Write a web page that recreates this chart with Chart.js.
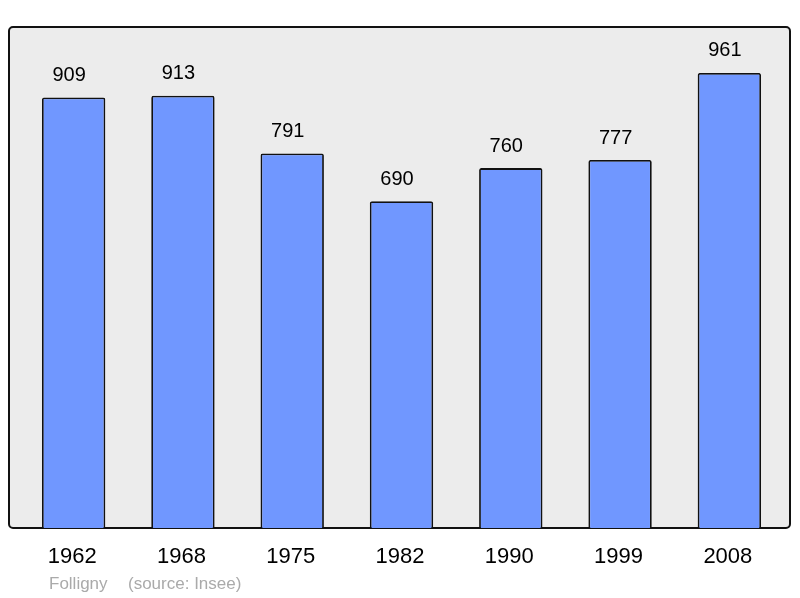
<!DOCTYPE html>
<html lang="fr">
<head>
<meta charset="UTF-8">
<title>Folligny population</title>
<script src="https://cdn.jsdelivr.net/npm/chart.js"></script>
<style>
  html, body { margin: 0; padding: 0; background: #fff; }
  #wrap { width: 800px; height: 598px; }
</style>
</head>
<body>
<div id="wrap"><canvas id="chart" width="800" height="598"></canvas></div>
<script>
const years = ['1962', '1968', '1975', '1982', '1990', '1999', '2008'];
const population = [909, 913, 791, 690, 760, 777, 961];
const commune = 'Folligny';
const source = '(source: Insee)';

const FONT = '"Liberation Sans", Arial, sans-serif';

// background box, value labels, year labels and footer
const decor = {
  id: 'decor',
  beforeDatasetsDraw(chart) {
    const { ctx, chartArea: a } = chart;
    ctx.save();
    ctx.beginPath();
    ctx.roundRect(a.left - 10, a.top, a.right - a.left + 16, a.bottom - a.top, 4);
    ctx.fillStyle = '#ececec';
    ctx.fill();
    ctx.lineWidth = 2;
    ctx.strokeStyle = '#111';
    ctx.stroke();
    ctx.restore();
  },
  afterDatasetsDraw(chart) {
    const { ctx } = chart;
    const meta = chart.getDatasetMeta(0);
    const x = chart.scales.x;
    ctx.save();
    ctx.textAlign = 'center';
    ctx.textBaseline = 'middle';
    ctx.fillStyle = '#000';
    ctx.font = '20px ' + FONT;
    meta.data.forEach((bar, i) => {
      ctx.fillText(String(population[i]), bar.x - 4.5, bar.y - 22);
    });
    ctx.font = '22px ' + FONT;
    years.forEach((y, i) => {
      ctx.fillText(y, x.getPixelForValue(i) - 1.5, 557);
    });
    ctx.font = '17px ' + FONT;
    ctx.fillStyle = '#aaaaaa';
    ctx.textAlign = 'left';
    ctx.fillText(commune, 49, 584);
    ctx.fillText(source, 128, 584);
    ctx.restore();
  }
};

new Chart(document.getElementById('chart'), {
  type: 'bar',
  data: {
    labels: years,
    datasets: [{
      data: population,
      backgroundColor: '#7097ff',
      borderColor: '#111',
      borderWidth: 1.8,
      borderRadius: 2,
      borderSkipped: 'bottom',
      barPercentage: 0.58,
      categoryPercentage: 1
    }]
  },
  options: {
    responsive: false,
    animation: false,
    layout: { padding: { left: 19, right: 16, top: 27, bottom: 70 } },
    plugins: { legend: { display: false }, tooltip: { enabled: false } },
    scales: {
      x: { display: false },
      y: { display: false, min: 0, max: 1058 }
    }
  },
  plugins: [decor]
});
</script>
</body>
</html>
